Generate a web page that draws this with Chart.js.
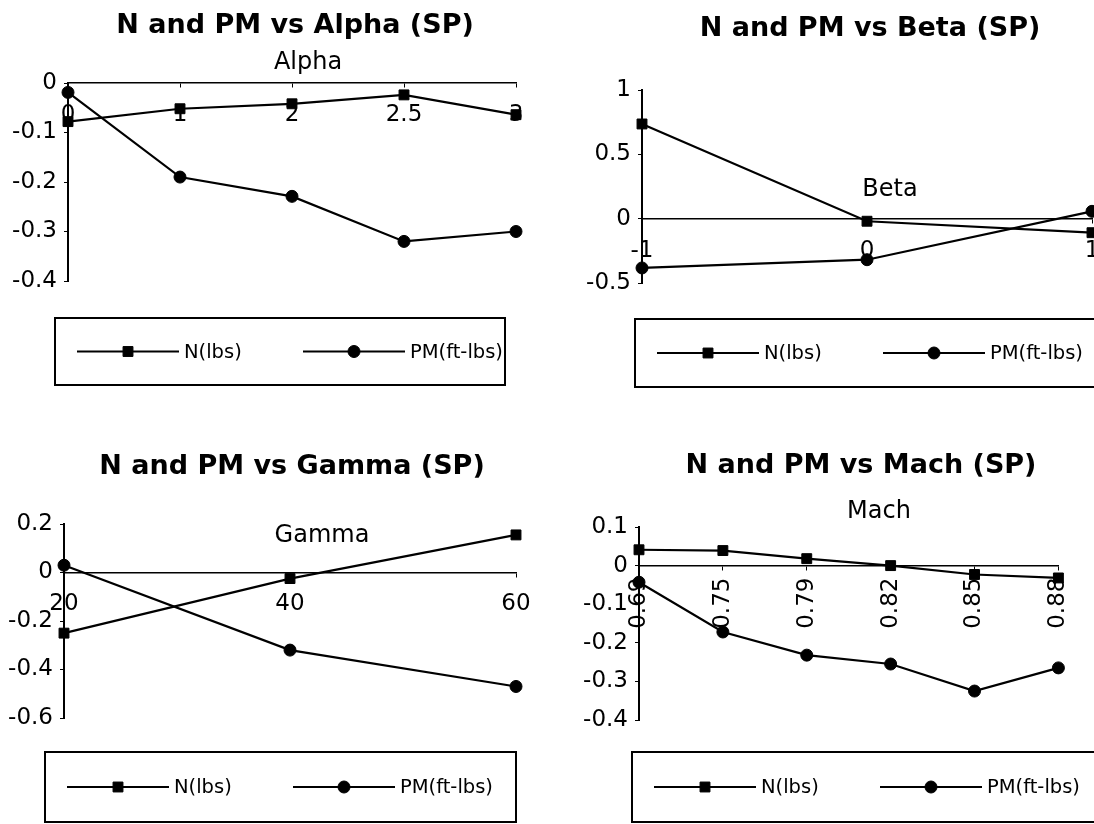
<!DOCTYPE html>
<html>
<head>
<meta charset="utf-8">
<title>N and PM (SP)</title>
<script src="https://cdn.jsdelivr.net/npm/chart.js@4.4.0/dist/chart.umd.min.js"></script>
<style>
  html, body { margin: 0; padding: 0; background: #fff; overflow: hidden; }
  #page { position: relative; width: 1094px; height: 824px; overflow: hidden; }
  #page canvas { position: absolute; }
</style>
</head>
<body>
<div id="page">
  <canvas id="c-alpha" width="547" height="412" style="left:0;top:0"></canvas>
  <canvas id="c-beta"  width="600" height="412" style="left:547px;top:0"></canvas>
  <canvas id="c-gamma" width="547" height="412" style="left:0;top:412px"></canvas>
  <canvas id="c-mach"  width="547" height="412" style="left:547px;top:412px"></canvas>
</div>
<script>
// ---- data ----
const alphaLabels = ['0', '1', '2', '2.5', '3'];
const alphaN  = [-0.078, -0.052, -0.042, -0.024, -0.064];
const alphaPM = [-0.019, -0.19, -0.229, -0.32, -0.30];

const betaLabels = ['-1', '0', '1'];
const betaN  = [0.736, -0.02, -0.109];
const betaPM = [-0.383, -0.319, 0.057];

const gammaLabels = ['20', '40', '60'];
const gammaN  = [-0.25, -0.025, 0.155];
const gammaPM = [0.03, -0.32, -0.47];

const machLabels = ['0.69', '0.75', '0.79', '0.82', '0.85', '0.88'];
const machN  = [0.041, 0.039, 0.018, 0.0, -0.023, -0.032];
const machPM = [-0.043, -0.172, -0.232, -0.255, -0.325, -0.265];

const seriesNames = ['N(lbs)', 'PM(ft-lbs)'];

const FONT = "'DejaVu Sans', 'Liberation Sans', sans-serif";

/* title, axis caption and boxed legend for one panel */
const panelDecor = {
  id: 'panelDecor',
  afterDraw(chart, args, o) {
    const ctx = chart.ctx;
    ctx.save();
    ctx.fillStyle = '#000';
    ctx.strokeStyle = '#000';
    ctx.textAlign = 'center';
    ctx.textBaseline = 'middle';
    ctx.font = `bold 27px ${FONT}`;
    ctx.fillText(o.title, o.titleAt[0], o.titleAt[1]);
    ctx.font = `24px ${FONT}`;
    ctx.fillText(o.axisTitle, o.axisTitleAt[0], o.axisTitleAt[1]);

    const b = o.legendBox;
    ctx.lineWidth = 2;
    ctx.strokeRect(b.x, b.y, b.w, b.h);
    const cy = b.y + b.h / 2;
    ctx.font = `19.5px ${FONT}`;
    ctx.textAlign = 'left';
    chart.data.datasets.forEach((ds, i) => {
      const x0 = b.x + 22 + i * 226;
      ctx.lineWidth = 2;
      ctx.beginPath();
      ctx.moveTo(x0, cy);
      ctx.lineTo(x0 + 102, cy);
      ctx.stroke();
      ctx.lineWidth = 1;
      Chart.helpers.drawPoint(ctx, { pointStyle: ds.pointStyle, radius: ds.pointRadius, borderWidth: 1, rotation: 0 }, x0 + 51, cy);
      ctx.fillText(ds.label, x0 + 107, cy + 1);
    });
    ctx.restore();
  }
};

function series(label, data, style, radius) {
  return {
    label, data,
    borderColor: '#000', borderWidth: 2.2, tension: 0,
    pointStyle: style, pointRadius: radius,
    pointBackgroundColor: '#000', pointBorderColor: '#000', pointBorderWidth: 1,
    clip: false
  };
}

const yTick = v => String(Number(v.toFixed(2)));

function panel(id, labels, n, pm, o) {
  return new Chart(document.getElementById(id), {
    type: 'line',
    data: {
      labels,
      datasets: [
        series(seriesNames[0], n, 'rect', 7),
        series(seriesNames[1], pm, 'circle', 6)
      ]
    },
    options: {
      responsive: false,
      animation: false,
      events: [],
      layout: { padding: o.pad },
      plugins: {
        legend: { display: false },
        tooltip: { enabled: false },
        panelDecor: o.decor
      },
      scales: {
        x: {
          position: { y: 0 },
          offset: false,
          border: { display: true, color: '#000', width: 1.5 },
          grid: { drawOnChartArea: false, drawTicks: true, tickLength: 4, color: '#000' },
          ticks: {
            color: '#000', font: { family: FONT, size: 23 },
            padding: o.xPad, autoSkip: false,
            minRotation: o.rot || 0, maxRotation: o.rot || 0
          }
        },
        y: {
          min: o.min, max: o.max,
          border: { display: true, color: '#000', width: 2 },
          grid: { drawOnChartArea: false, drawTicks: true, tickLength: 4, color: '#000' },
          ticks: { color: '#000', font: { family: FONT, size: 23 }, stepSize: o.step, padding: 7, callback: yTick },
          afterFit(scale) { scale.width = 60; }
        }
      }
    },
    plugins: [panelDecor]
  });
}

panel('c-alpha', alphaLabels, alphaN, alphaPM, {
  min: -0.4, max: 0, step: 0.1, xPad: 14,
  pad: { left: 8, top: 83, right: 31, bottom: 131 },
  decor: {
    title: 'N and PM vs Alpha (SP)', titleAt: [295, 26],
    axisTitle: 'Alpha', axisTitleAt: [308, 63],
    legendBox: { x: 55, y: 318, w: 450, h: 67 }
  }
});

panel('c-beta', betaLabels, betaN, betaPM, {
  min: -0.5, max: 1, step: 0.5, xPad: 15,
  pad: { left: 35, top: 90, right: 55, bottom: 129 },
  decor: {
    title: 'N and PM vs Beta (SP)', titleAt: [323, 29],
    axisTitle: 'Beta', axisTitleAt: [343, 190],
    legendBox: { x: 88, y: 319, w: 480, h: 68 }
  }
});

panel('c-gamma', gammaLabels, gammaN, gammaPM, {
  min: -0.6, max: 0.2, step: 0.2, xPad: 14,
  pad: { left: 4, top: 112, right: 31, bottom: 106 },
  decor: {
    title: 'N and PM vs Gamma (SP)', titleAt: [292, 55],
    axisTitle: 'Gamma', axisTitleAt: [322, 124],
    legendBox: { x: 45, y: 340, w: 471, h: 70 }
  }
});

panel('c-mach', machLabels, machN, machPM, {
  min: -0.4, max: 0.1, step: 0.1, xPad: 8, rot: 90,
  pad: { left: 32, top: 115, right: 14, bottom: 104 },
  decor: {
    title: 'N and PM vs Mach (SP)', titleAt: [314, 54],
    axisTitle: 'Mach', axisTitleAt: [332, 100],
    legendBox: { x: 85, y: 340, w: 480, h: 70 }
  }
});
</script>
</body>
</html>
